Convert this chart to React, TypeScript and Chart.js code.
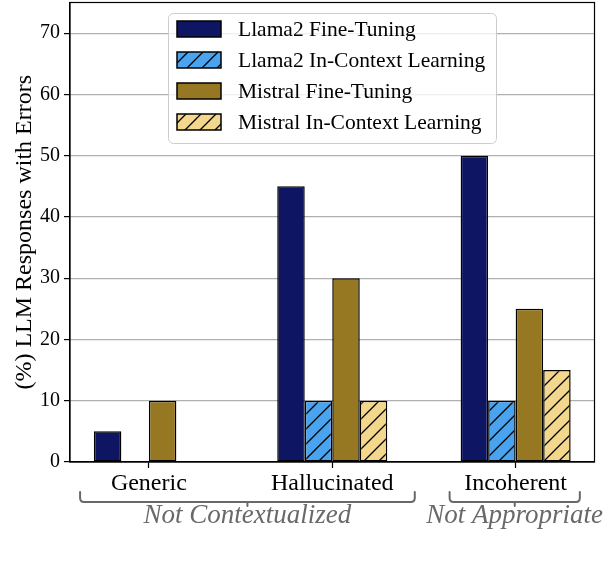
import React, { useEffect, useRef } from "react";
import { Chart, registerables } from "chart.js";

Chart.register(...registerables);

// ---- data ----
const categories = ["Generic", "Hallucinated", "Incoherent"];
const seriesLabels = [
  "Llama2 Fine-Tuning",
  "Llama2 In-Context Learning",
  "Mistral Fine-Tuning",
  "Mistral In-Context Learning",
];
const llama2FineTuning = [5, 45, 50];
const llama2InContext = [0, 10, 10];
const mistralFineTuning = [10, 30, 25];
const mistralInContext = [0, 10, 15];
const yTickValues = [0, 10, 20, 30, 40, 50, 60, 70];
const yTitle = "(%) LLM Responses with Errors";
const groupLabels = ["Not Contextualized", "Not Appropriate"];
const groupFrom = [-0.375, 1.64];
const groupTo = [1.45, 2.35];

// ---- styles ----
const seriesColors = ["#0e1563", "#4aa3ef", "#967722", "#f2d78c"];
const seriesHatched = [false, true, false, true];
const SERIF = "'Liberation Serif', 'DejaVu Serif', serif";
const GRAY = "#696969";

function makeHatch(color: string) {
  const s = 15;
  const c = document.createElement("canvas");
  c.width = s;
  c.height = s;
  const g = c.getContext("2d")!;
  g.fillStyle = color;
  g.fillRect(0, 0, s, s);
  g.strokeStyle = "#000";
  g.lineWidth = 1.3;
  g.beginPath();
  g.moveTo(0, s);
  g.lineTo(s, 0);
  g.moveTo(-2, 2);
  g.lineTo(2, -2);
  g.moveTo(s - 2, s + 2);
  g.lineTo(s + 2, s - 2);
  g.stroke();
  return g.createPattern(c, "repeat") as CanvasPattern;
}

const overlayPlugin = {
  id: "overlay",
  afterDraw(chart: any) {
    const { ctx, chartArea } = chart;
    const xs = chart.scales.x;
    ctx.save();
    // frame (top/right spines)
    ctx.strokeStyle = "#000";
    ctx.lineWidth = 1.2;
    ctx.strokeRect(chartArea.left, chartArea.top, chartArea.right - chartArea.left, chartArea.bottom - chartArea.top);

    // legend
    const bx = chartArea.left + 98;
    const by = 13;
    const bw = 328;
    const bh = 130;
    ctx.beginPath();
    ctx.roundRect(bx + 0.5, by + 0.5, bw, bh, 5);
    ctx.fillStyle = "rgba(255,255,255,0.8)";
    ctx.fill();
    ctx.strokeStyle = "#cccccc";
    ctx.lineWidth = 1;
    ctx.stroke();
    chart.data.datasets.forEach((ds: any, k: number) => {
      const cy = by + 16 + k * 31;
      const sx = bx + 9;
      ctx.fillStyle = ds.backgroundColor;
      ctx.fillRect(sx, cy - 8, 44, 16);
      ctx.strokeStyle = "#000";
      ctx.lineWidth = 1.5;
      ctx.strokeRect(sx, cy - 8, 44, 16);
      ctx.fillStyle = "#000";
      ctx.font = `21.5px ${SERIF}`;
      ctx.textAlign = "left";
      ctx.textBaseline = "middle";
      ctx.fillText(ds.label, sx + 61, cy + 1);
    });

    // group brackets
    ctx.strokeStyle = GRAY;
    ctx.lineWidth = 2;
    ctx.lineJoin = "round";
    ctx.lineCap = "round";
    const yTop = chartArea.bottom + 30;
    const yLine = chartArea.bottom + 40;
    const r = 4;
    groupLabels.forEach((lab, i) => {
      const x1 = xs.getPixelForValue(groupFrom[i]);
      const x2 = xs.getPixelForValue(groupTo[i]);
      const xm = (x1 + x2) / 2;
      ctx.beginPath();
      ctx.moveTo(x1, yTop);
      ctx.lineTo(x1, yLine - r);
      ctx.quadraticCurveTo(x1, yLine, x1 + r, yLine);
      ctx.lineTo(x2 - r, yLine);
      ctx.quadraticCurveTo(x2, yLine, x2, yLine - r);
      ctx.lineTo(x2, yTop);
      ctx.moveTo(xm, yLine);
      ctx.lineTo(xm, yLine + 4);
      ctx.stroke();
      ctx.fillStyle = GRAY;
      ctx.font = `italic 27px ${SERIF}`;
      ctx.textAlign = "center";
      ctx.textBaseline = "alphabetic";
      ctx.fillText(lab, xm, chartArea.bottom + 61);
    });
    ctx.restore();
  },
};

export default function App() {
  const ref = useRef<HTMLCanvasElement | null>(null);
  useEffect(() => {
    const canvas = ref.current!;
    const series = [llama2FineTuning, llama2InContext, mistralFineTuning, mistralInContext];
    const chart = new Chart(canvas, {
      type: "bar",
      data: {
        datasets: series.map((vals, k) => ({
          label: seriesLabels[k],
          data: vals.map((v, i) => ({ x: i, y: v })),
          backgroundColor: seriesHatched[k] ? makeHatch(seriesColors[k]) : seriesColors[k],
          borderColor: "#000",
          borderWidth: 1.5,
          borderSkipped: false,
          categoryPercentage: 0.6,
          barPercentage: 1,
        })),
      },
      options: {
        animation: false,
        responsive: false,
        events: [],
        layout: { padding: { top: 2.5, right: 9.5, left: 0, bottom: 0 } },
        plugins: { legend: { display: false }, tooltip: { enabled: false } },
        scales: {
          x: {
            type: "linear",
            min: -0.43,
            max: 2.43,
            offset: false,
            afterBuildTicks: (s: any) => {
              s.ticks = categories.map((_, i) => ({ value: i }));
            },
            afterFit: (s: any) => {
              s.height = 104;
              s.paddingLeft = 0;
              s.paddingRight = 0;
            },
            ticks: {
              callback: (v: any) => categories[v as number] ?? "",
              font: { family: SERIF, size: 24 },
              color: "#000",
              padding: 1,
              autoSkip: false,
              maxRotation: 0,
            },
            grid: {
              offset: false,
              drawOnChartArea: false,
              drawTicks: true,
              tickLength: 6,
              tickColor: "#000",
              tickWidth: 1.2,
            },
            border: { color: "#000", width: 1.2 },
          },
          y: {
            min: 0,
            max: 75,
            afterBuildTicks: (s: any) => {
              s.ticks = yTickValues.map((v) => ({ value: v }));
            },
            afterFit: (s: any) => {
              s.width = 70;
              s.paddingTop = 0;
              s.paddingBottom = 0;
            },
            ticks: {
              font: { family: SERIF, size: 20 },
              color: "#000",
              padding: 4,
            },
            grid: {
              color: "#b0b0b0",
              lineWidth: 1.2,
              drawTicks: true,
              tickLength: 6,
              tickColor: "#000",
              tickWidth: 1.2,
            },
            border: { color: "#000", width: 1.2 },
            title: {
              display: true,
              text: yTitle,
              color: "#000",
              font: { family: SERIF, size: 24 },
              padding: { top: 10, bottom: 0 },
            },
          },
        },
      },
      plugins: [overlayPlugin],
    } as any);
    return () => chart.destroy();
  }, []);
  return (
    <canvas
      ref={ref}
      width={604}
      height={566}
      style={{ position: "fixed", left: 0, top: 0, width: 604, height: 566, display: "block", background: "#fff" }}
    />
  );
}
